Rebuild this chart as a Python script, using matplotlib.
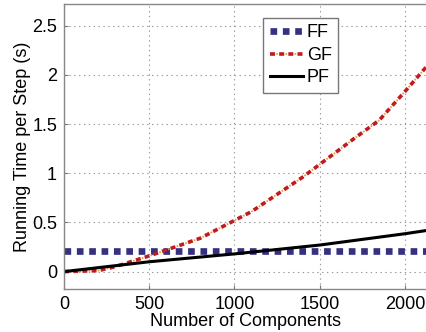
import matplotlib
matplotlib.use("Agg")
import matplotlib.pyplot as plt
from matplotlib.legend_handler import HandlerTuple

plt.rcParams['font.family'] = ['Liberation Sans', 'DejaVu Sans']
plt.rcParams['lines.scale_dashes'] = False

# Data
ff_x = [0, 2135]
ff_y = [0.205, 0.205]

gf_x = [0, 200, 300, 500, 800, 1000, 1100, 1400, 1500, 1700, 1850, 2000, 2135]
gf_y = [0.0, 0.01, 0.05, 0.16, 0.34, 0.52, 0.61, 0.96, 1.09, 1.35, 1.54, 1.83, 2.10]

pf_x = [0, 500, 1000, 1500, 2000, 2135]
pf_y = [0.0, 0.10, 0.18, 0.27, 0.385, 0.42]

x_ticks = [0, 500, 1000, 1500, 2000]
y_ticks = [0, 0.5, 1, 1.5, 2, 2.5]

fig = plt.figure(figsize=(4.27, 3.32), dpi=100)
ax = fig.add_axes([0.150, 0.1286, 0.852, 0.859])

ff_line, = ax.plot(ff_x, ff_y, color="#35307f", lw=4.8, linestyle=(0, (4.8, 4.1)),
                   dash_capstyle="butt", solid_capstyle="butt")
gf_red, = ax.plot(gf_x, gf_y, color="#c01a22", lw=2.6, linestyle=(0, (3.6, 3.0)),
                  dash_capstyle="butt")
gf_org, = ax.plot(gf_x, gf_y, color="#f0a020", lw=1.3, linestyle=(2.1, (1.2, 5.4)),
                  dash_capstyle="butt")
pf_line, = ax.plot(pf_x, pf_y, color="black", lw=2.2)

ax.set_xlim(0, 2135)
ax.set_ylim(-0.18, 2.72)
ax.set_xticks(x_ticks)
ax.set_yticks(y_ticks)
ax.set_yticklabels(["0", "0.5", "1", "1.5", "2", "2.5"])
ax.tick_params(direction="in", labelsize=13, length=3, color="#777777", pad=5)
ax.grid(True, linestyle=(0, (1, 2.5)), color="#999999", lw=0.8)
for s in ax.spines.values():
    s.set_color("#888888")
    s.set_linewidth(1.0)

ax.set_xlabel("Number of Components", fontsize=13, labelpad=0)
ax.set_ylabel("Running Time per Step (s)", fontsize=13, labelpad=1)

leg = ax.legend([ff_line, (gf_red, gf_org), pf_line], ["FF", "GF", "PF"],
                handler_map={tuple: HandlerTuple(ndivide=1, pad=0)},
                loc="upper left", bbox_to_anchor=(0.548, 0.951), borderaxespad=0,
                fontsize=13, handlelength=1.85, handletextpad=0.2,
                labelspacing=0.3, fancybox=False, framealpha=1,
                edgecolor="#777777", borderpad=0.35)
leg.get_frame().set_linewidth(1.0)

fig.savefig("out.png", dpi=100)
